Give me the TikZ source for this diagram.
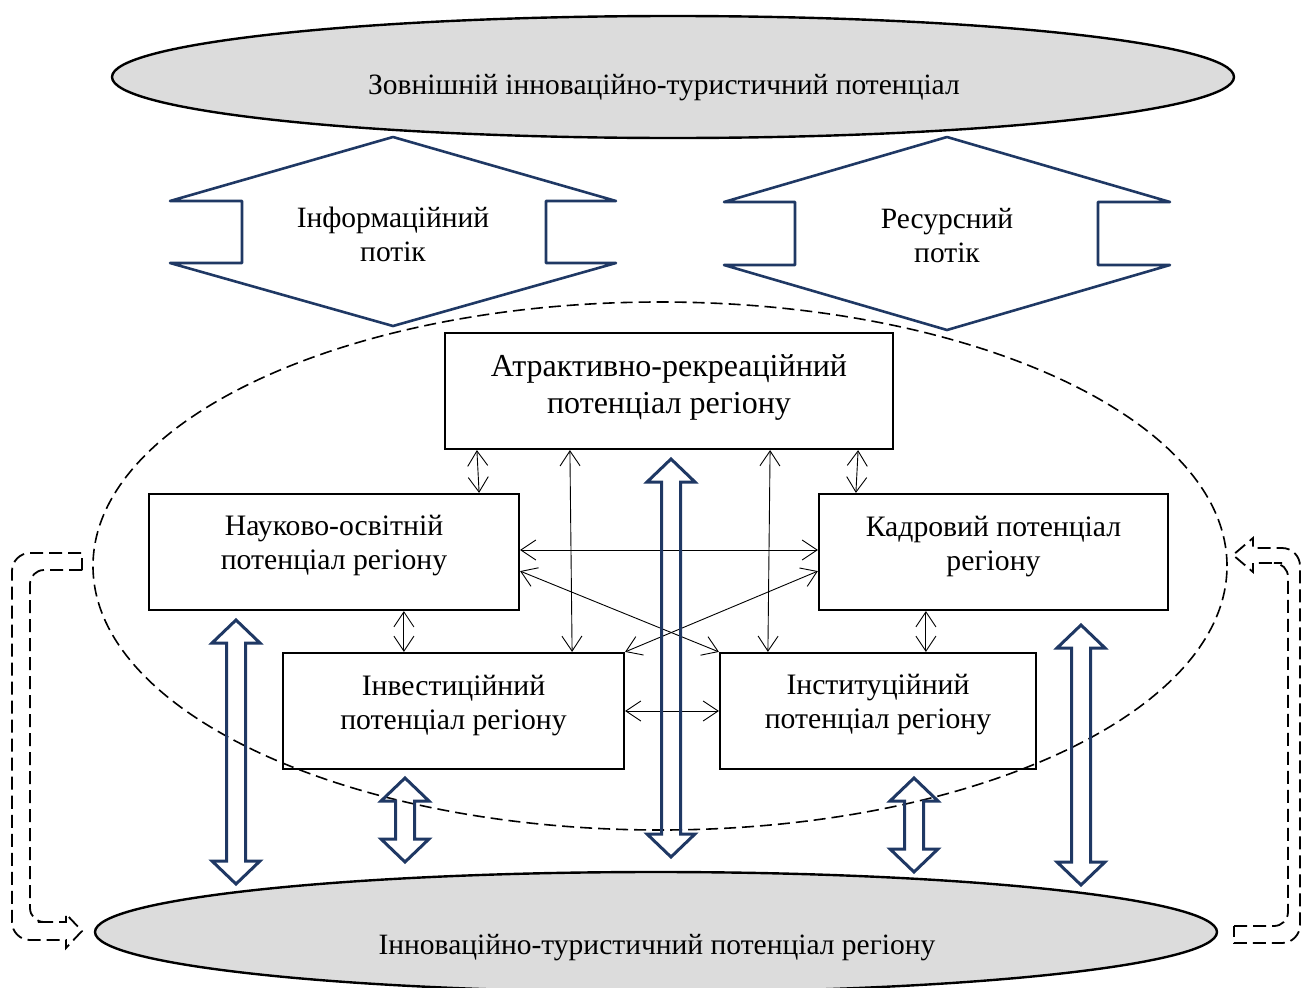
\documentclass[tikz,border=0pt]{standalone}
\usepackage{fontspec}
\setmainfont{Liberation Serif}
\usetikzlibrary{arrows.meta,shapes.geometric}
\definecolor{navy}{HTML}{1F3864}
\definecolor{ellgray}{HTML}{DCDCDC}
\newcommand\dblarr[3]{%
  \draw[flow] (#1,#2) -- ({#1+24},{#2+23}) -- ({#1+9.5},{#2+23}) -- ({#1+9.5},{#3-23})
    -- ({#1+24},{#3-23}) -- (#1,#3) -- ({#1-24},{#3-23}) -- ({#1-9.5},{#3-23})
    -- ({#1-9.5},{#2+23}) -- ({#1-24},{#2+23}) -- cycle;}
\begin{document}
\begin{tikzpicture}[x=1pt,y=-1pt,
  box/.style={draw,line width=2.2pt,inner sep=0pt,minimum height=116pt},
  txt/.style={align=center,inner sep=0pt,font=\fontsize{29.7}{34}\selectfont},
  ell/.style={ellipse,draw,line width=2.4pt,fill=ellgray,inner sep=0pt},
  lbl/.style={align=center,inner sep=0pt,font=\fontsize{29.5}{34}\selectfont},
  thin/.style={line width=0.9pt,
    {Straight Barb[length=15pt,width=20pt]}-{Straight Barb[length=15pt,width=20pt]}},
  flow/.style={draw=navy,line width=3pt,line join=miter},
  hexa/.style={draw=navy,line width=2.6pt,line join=round},
  fb/.style={dash pattern=on 13pt off 6pt,line width=1.8pt}
]
\useasboundingbox (0,0) rectangle (1302,988);

% ellipses
\node[ell,minimum width=1122pt,minimum height=122pt] (ext) at (673,77) {};
\node[lbl] (extt) at (664,88) {Зовнішній інноваційно-туристичний потенціал};
\node[ell,minimum width=1122pt,minimum height=120pt] (reg) at (656,932) {};
\node[lbl] (regt) at (657,948) {Інноваційно-туристичний потенціал регіону};

% dashed inner ellipse
\node[ellipse,draw,dash pattern=on 12pt off 6pt,line width=1.6pt,
  minimum width=1134pt,minimum height=528pt] (inner) at (660,566) {};

% flow hexagons
\draw[hexa] (393,137) -- (170,201) -- (242,201) -- (242,263) -- (170,263) -- (393,326)
  -- (616,263) -- (546,263) -- (546,201) -- (616,201) -- cycle;
\node[lbl] (info) at (393,234) {Інформаційний\\потік};
\draw[hexa] (947,137) -- (724,202) -- (795,202) -- (795,265) -- (724,265) -- (947,330)
  -- (1170,265) -- (1098,265) -- (1098,202) -- (1170,202) -- cycle;
\node[lbl] (res) at (947,236) {Ресурсний\\потік};

% boxes
\node[box,minimum width=448pt] (atr) at (669,391) {};
\node[txt,font=\fontsize{32}{37}\selectfont] (atrt) at ([yshift=4pt]atr.center) {Атрактивно-рекреаційний\\потенціал регіону};
\node[box,minimum width=370pt] (nauk) at (334,552) {};
\node[txt] (naukt) at ([yshift=6pt]nauk.center) {Науково-освітній\\потенціал регіону};
\node[box,minimum width=349pt] (kadr) at (993.5,552) {};
\node[txt] (kadrt) at ([yshift=5pt]kadr.center) {Кадровий потенціал\\регіону};
\node[box,minimum width=341pt] (inv) at (453.5,711) {};
\node[txt] (invt) at ([yshift=5pt]inv.center) {Інвестиційний\\потенціал регіону};
\node[box,minimum width=316pt] (ins) at (878,711) {};
\node[txt] (inst) at ([yshift=6pt]ins.center) {Інституційний\\потенціал регіону};

% thin arrows
\draw[thin] ([xshift=33pt]atr.south west) -- ([xshift=-41pt]nauk.north east);
\draw[thin] ([xshift=-36pt]atr.south east) -- ([xshift=38pt]kadr.north west);
\draw[thin] ([xshift=126pt]atr.south west) -- ([xshift=-53pt]inv.north east);
\draw[thin] ([xshift=-124pt]atr.south east) -- ([xshift=49pt]ins.north west);
\draw[thin] ([yshift=2pt]nauk.east) -- ([yshift=2pt]kadr.west);
\draw[thin] ([yshift=40pt]nauk.south east) -- (ins.north west);
\draw[thin] ([yshift=40pt]kadr.south west) -- (inv.north east);
\draw[thin] ([xshift=256pt]nauk.south west) -- ([xshift=122pt]inv.north west);
\draw[thin] ([xshift=108pt]kadr.south west) -- ([xshift=207pt]ins.north west);
\draw[thin] (inv.east) -- (ins.west);

% big navy double arrows
\dblarr{236}{620}{884}
\dblarr{405}{778}{862}
\dblarr{671}{459}{857}
\dblarr{914}{778}{872}
\dblarr{1081}{625}{885}

% dashed feedback arrows
\draw[fb] (82,570) [rounded corners=14pt] -- (30,570) -- (30,922) -- (50,922) [sharp corners]
  -- (66,922) -- (66,914) -- (82,931) -- (66,948) -- (66,940) -- (45,940) [rounded corners=18pt]
  -- (12,940) -- (12,553) -- (60,553) [sharp corners] -- (82,553) -- cycle;
\draw[fb] (1234,926) -- (1260,926) [rounded corners=14pt] -- (1288,926) -- (1288,563)
  -- (1268,563) [sharp corners] -- (1253,563) -- (1253,572) -- (1233,555) -- (1253,538)
  -- (1253,548) -- (1270,548) [rounded corners=18pt] -- (1300,548) -- (1300,943)
  -- (1260,943) [sharp corners] -- (1234,943) -- cycle;
\end{tikzpicture}
\end{document}
